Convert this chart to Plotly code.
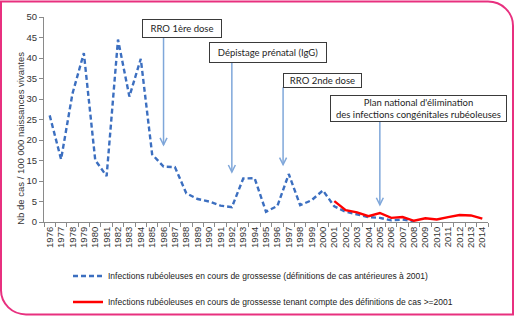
import plotly.graph_objects as go

# Incidence of rubella infections during pregnancy (per 100 000 live births)
years = list(range(1976, 2015))

old_def_years = list(range(1976, 2009))
old_def_values = [26.0, 15.3, 31.3, 41.2, 15.1, 11.2, 44.5, 30.6, 39.8, 16.5,
                  13.5, 13.4, 7.0, 5.6, 5.0, 4.0, 3.6, 10.6, 10.7, 2.5,
                  3.9, 11.7, 4.1, 5.3, 7.7, 3.8, 2.5, 1.9, 1.2, 1.0,
                  0.4, 0.6, 0.2]

new_def_years = list(range(2001, 2015))
new_def_values = [5.1, 2.9, 2.35, 1.4, 2.2, 1.0, 1.2, 0.3, 0.9, 0.6,
                  1.2, 1.7, 1.6, 0.8]

# Public-health milestones (label, year pointed at, arrow tip value)
event_labels = ["RRO 1ère dose", "Dépistage prénatal (IgG)", "RRO 2nde dose",
                "Plan national d'élimination<br>des infections congénitales rubéoleuses"]
event_years = [1986, 1992, 1996.5, 2005]
event_tips = [18.8, 12.2, 14.0, 4.2]

legend_old = "Infections rubéoleuses en cours de grossesse (définitions de cas antérieures à 2001)"
legend_new = "Infections rubéoleuses en cours de grossesse tenant compte des définitions de cas >=2001"

W, H = 516, 329
ML, MR, MT, MB = 44, 28, 17, 99
PW, PH = W - ML - MR, H - MT - MB


def px_to_paper(px, py):
    return (px - ML) / PW, (H - MB - py) / PH


def y_to_val(py):
    return (H - MB - py) / PH * 50


def x_to_year(px):
    return 1975.5 + (px - ML) / PW * 39


fig = go.Figure()

fig.add_trace(go.Scatter(
    x=old_def_years, y=old_def_values, mode="lines", name=legend_old,
    line=dict(color="#3C6FC0", width=2.4, dash="5px,3px"),
    legendgroup="a",
))
fig.add_trace(go.Scatter(
    x=new_def_years, y=new_def_values, mode="lines", name=legend_new,
    line=dict(color="#FF0000", width=2.4),
    legendgroup="b",
))

# Label boxes: centre pixel (x, y), width, height
boxes = [(182, 28.5, 80, 19), (268, 53.5, 118, 21), (322.5, 82.5, 79, 15), (418.5, 112.5, 177, 27)]
shapes = []
annotations = []
arrow_col = "#7FA7DA"
for label, yr, tip, (cx, cy, bw, bh) in zip(event_labels, event_years, event_tips, boxes):
    annotations.append(dict(
        x=x_to_year(cx), y=y_to_val(cy), xref="x", yref="y", text=label,
        showarrow=False, font=dict(family="Lato", size=9.5, color="#1E1E1E"),
        bgcolor="white", bordercolor="#3A3A3A", borderwidth=1, borderpad=0,
        width=bw - 2, height=bh - 2, align="center", valign="middle",
    ))
    top = y_to_val(cy + bh / 2)
    shapes.append(dict(type="line", xref="x", yref="y", x0=yr, x1=yr, y0=tip, y1=top,
                       line=dict(color=arrow_col, width=1.5)))
    shapes.append(dict(type="path", xref="x", yref="y", xsizemode="pixel", ysizemode="pixel",
                       xanchor=yr, yanchor=tip, path="M -3.5,7 L 0,0 L 3.5,7",
                       line=dict(color=arrow_col, width=1.5)))

# Rounded pink frame around the figure
kx = 0.5523
left, right, top_, bottom, r = 1, 513, 1, 326, 25


def P(px, py):
    x, y = px_to_paper(px, py)
    return f"{x:.5f},{y:.5f}"


path = (f"M {P(left, top_)} L {P(right - r, top_)} "
        f"C {P(right - r + r * kx, top_)} {P(right, top_ + r - r * kx)} {P(right, top_ + r)} "
        f"L {P(right, bottom)} L {P(left + r, bottom)} "
        f"C {P(left + r - r * kx, bottom)} {P(left, bottom - r + r * kx)} {P(left, bottom - r)} Z")
shapes.append(dict(type="path", xref="paper", yref="paper", path=path,
                   line=dict(color="#E8307F", width=2), layer="below"))

# Y-axis title
tx, ty = px_to_paper(13, 143)
annotations.append(dict(
    x=tx, y=ty, xref="paper", yref="paper", text="Nb de cas / 100 000 naissances vivantes",
    textangle=-90, showarrow=False, font=dict(family="Liberation Sans", size=9.5, color="#333333"),
))

lx, ly = px_to_paper(68, 271)
fig.update_layout(
    width=W, height=H,
    margin=dict(l=ML, r=MR, t=MT, b=MB),
    paper_bgcolor="white", plot_bgcolor="white",
    showlegend=True,
    legend=dict(x=lx, y=ly, xanchor="left", yanchor="top", orientation="v",
                font=dict(family="Liberation Sans", size=8.5, color="#222222"),
                tracegroupgap=7, bgcolor="rgba(0,0,0,0)"),
    xaxis=dict(range=[1975.5, 2014.5], tickmode="array", tickvals=years,
               ticktext=[str(y) for y in years], tickangle=-90, ticks="",
               tickfont=dict(family="Liberation Sans", size=9.5, color="#333333"),
               showline=True, linecolor="#8A8A8A", linewidth=1, showgrid=False, zeroline=False,
               minor=dict(tick0=1975.5, dtick=1, ticks="outside", ticklen=4, tickcolor="#8A8A8A")),
    yaxis=dict(range=[0, 50], tickmode="linear", tick0=0, dtick=5, ticks="outside", ticklen=4,
               tickcolor="#8A8A8A", showline=True, linecolor="#8A8A8A", linewidth=1,
               showgrid=False, zeroline=False,
               tickfont=dict(family="Liberation Sans", size=9.5, color="#333333")),
    shapes=shapes, annotations=annotations,
)

fig.write_html("out.html")
